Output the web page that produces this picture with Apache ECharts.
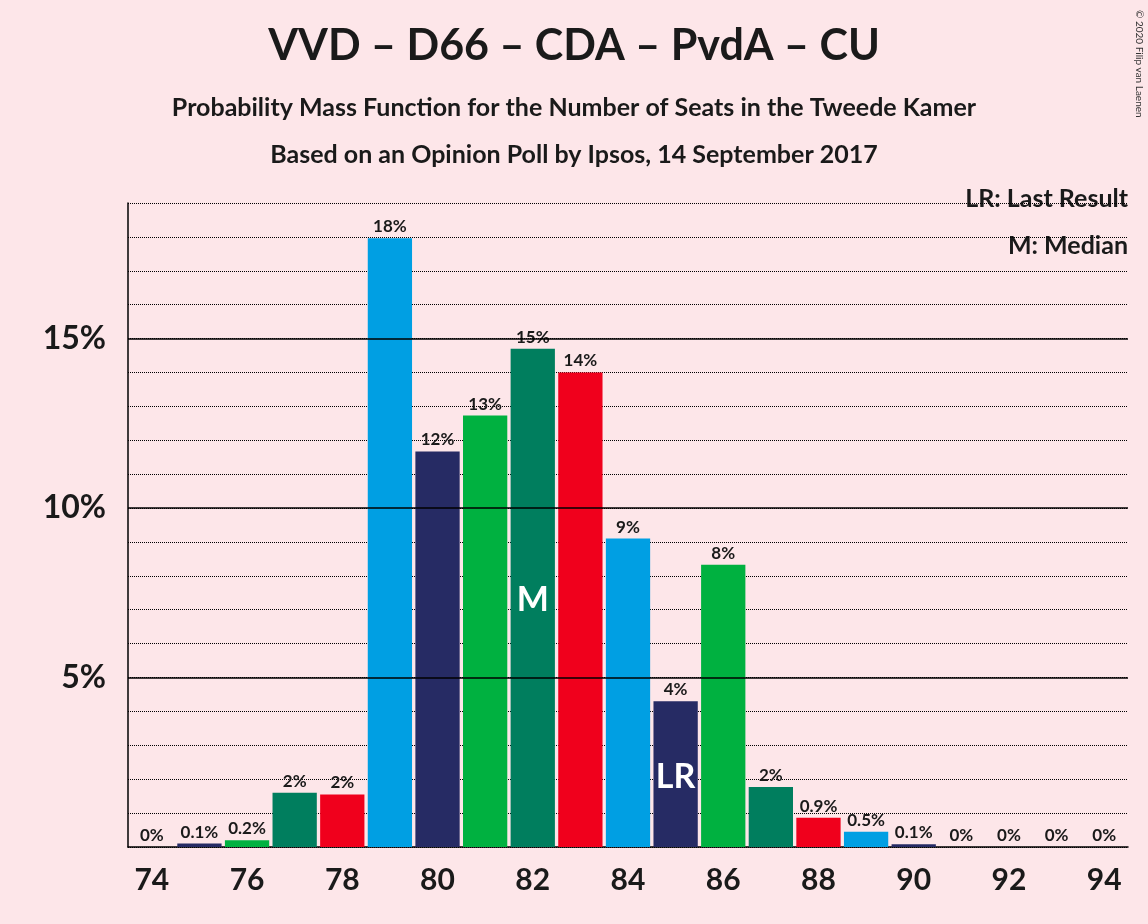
<!DOCTYPE html>
<html><head><meta charset="utf-8">
<script src="https://cdn.jsdelivr.net/npm/echarts@6/dist/echarts.min.js"></script>
<style>html,body{margin:0;background:#FDE6E9}#c{width:1148px;height:924px}</style></head>
<body><div id="c"></div>
<script>
const seats = [74,75,76,77,78,79,80,81,82,83,84,85,86,87,88,89,90,91,92,93,94];
const probs = [0,0.1,0.2,1.6,1.55,17.96,11.67,12.73,14.7,14.0,9.1,4.3,8.33,1.77,0.86,0.45,0.08,0,0,0,0];
const labels = ["0%","0.1%","0.2%","2%","2%","18%","12%","13%","15%","14%","9%","4%","8%","2%","0.9%","0.5%","0.1%","0%","0%","0%","0%"];
const palette = ["#009FE3","#262B64","#00B140","#007E5E","#F0001C"];
const lastResult = 75.5;
const markers = [{seat:"82",y:7.3,text:"M"},{seat:"85",y:2.07,text:"LR"}];
const F = "Lato, 'DejaVu Sans', sans-serif";
const chart = echarts.init(document.getElementById('c'));
chart.setOption({
  backgroundColor:"#FDE6E9",
  textStyle:{fontFamily:F},
  animation:false,
  title:[
    {text:"VVD – D66 – CDA – PvdA – CU",left:"center",top:20,textStyle:{fontSize:43,fontWeight:"bold",color:"#1a1a1a",fontFamily:F}},
    {text:"Probability Mass Function for the Number of Seats in the Tweede Kamer",left:"center",top:90,textStyle:{fontSize:25,fontWeight:"bold",color:"#1a1a1a",fontFamily:F}},
    {text:"Based on an Opinion Poll by Ipsos, 14 September 2017",left:"center",top:137,textStyle:{fontSize:25,fontWeight:"bold",color:"#1a1a1a",fontFamily:F}}
  ],
  graphic:[
    {type:"text",right:20,top:186,style:{text:"LR: Last Result",font:"bold 25px "+F,fill:"#1a1a1a"}},
    {type:"text",right:20,top:233,style:{text:"M: Median",font:"bold 25px "+F,fill:"#1a1a1a"}},
    {type:"text",left:1134,top:10,rotation:-Math.PI/2,style:{text:"© 2020 Filip van Laenen",font:"10px "+F,fill:"#333"}}
  ],
  grid:{left:128,right:20,top:203,bottom:77},
  xAxis:[
    {type:"category",data:seats.map(String),axisLine:{lineStyle:{color:"#000",width:1.5}},axisTick:{show:false},
     axisLabel:{interval:1,fontSize:30,fontWeight:"bold",color:"#1a1a1a",margin:18,fontFamily:F}},
    {type:"value",min:73.5,max:94.5,show:false}
  ],
  yAxis:{type:"value",min:0,max:19,interval:1,
    axisLine:{show:true,lineStyle:{color:"#000",width:1.5}},axisTick:{show:false},
    axisLabel:{fontSize:32,fontWeight:"bold",color:"#1a1a1a",margin:22,fontFamily:F,
      formatter:v=>(v>0&&v%5===0)?v+"%":""},
    splitLine:{lineStyle:{type:"dotted",color:"#000",width:1}}},
  series:[
    {type:"bar",barCategoryGap:"7%",
     data:probs.map((v,i)=>({value:v,itemStyle:{color:palette[i%5]}})),
     label:{show:true,position:"top",formatter:p=>labels[p.dataIndex],fontSize:17,fontWeight:"bold",color:"#1a1a1a",distance:3,fontFamily:F},
     markLine:{silent:true,symbol:"none",label:{show:false},lineStyle:{color:"#000",type:"solid",width:1.5},
       data:[{yAxis:5},{yAxis:10},{yAxis:15}]}},
    {type:"line",xAxisIndex:1,data:[],markLine:{silent:true,symbol:"none",label:{show:false},
       data:[[{coord:[lastResult,0],lineStyle:{color:"#D00000",type:"solid",width:1.2}},{coord:[lastResult,19.6]}]]}},
    {type:"scatter",symbolSize:1,itemStyle:{opacity:0},data:markers.map(m=>[m.seat,m.y,m.text]),
     label:{show:true,position:"inside",opacity:1,formatter:p=>p.data[2],fontSize:34,fontWeight:"bold",color:"#ffffff",textBorderWidth:0,fontFamily:F},z:5}
  ]
});
</script></body></html>
